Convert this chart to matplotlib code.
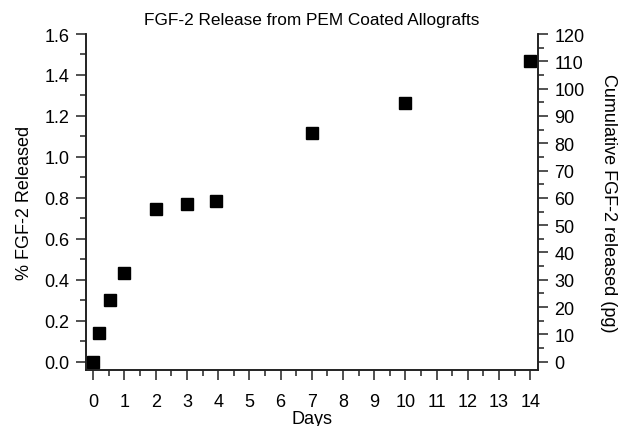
import matplotlib
matplotlib.use("Agg")
import matplotlib.pyplot as plt
from matplotlib.ticker import MultipleLocator

plt.rcParams['font.family'] = ['Liberation Sans', 'DejaVu Sans']

# release data
days = [0, 0.17, 0.55, 1, 2, 3, 3.92, 7, 10, 14]
pct_released = [0.0, 0.139, 0.301, 0.433, 0.746, 0.770, 0.783, 1.117, 1.263, 1.466]

# 1.6 % corresponds to 120 pg on the right axis
pg_per_pct = 75.0

fig = plt.figure(figsize=(6.19, 4.27), dpi=100)
ax = fig.add_axes([0.1384, 0.1318, 0.7313, 0.7862])
ax.plot(days, pct_released, linestyle="none", marker="s", markersize=8.5,
        color="black", clip_on=False, zorder=3)

ax.set_xlim(-0.244, 14.26)
ax.set_ylim(-0.039, 1.6)
ax.xaxis.set_major_locator(MultipleLocator(1))
ax.xaxis.set_minor_locator(MultipleLocator(0.5))
ax.yaxis.set_major_locator(MultipleLocator(0.2))
ax.yaxis.set_minor_locator(MultipleLocator(0.1))
ax.yaxis.set_major_formatter(plt.FuncFormatter(lambda v, p: "%.1f" % v))

ax2 = ax.twinx()
lo, hi = ax.get_ylim()
ax2.set_ylim(lo * pg_per_pct, hi * pg_per_pct)
ax2.yaxis.set_major_locator(MultipleLocator(10))
ax2.yaxis.set_minor_locator(MultipleLocator(5))

for a in (ax, ax2):
    a.spines["top"].set_visible(False)
    for s in a.spines.values():
        s.set_linewidth(1.2)
        s.set_color("#222222")
    a.tick_params(which="major", length=7.5, width=1.1, color="#222222",
                  labelsize=13, direction="out")
    a.tick_params(which="minor", length=4.5, width=1.1, color="#222222",
                  direction="out")
ax.tick_params(axis="x", pad=9)
ax.tick_params(axis="y", pad=4)
ax2.tick_params(axis="y", pad=4)

ax.set_title("FGF-2 Release from PEM Coated Allografts", fontsize=12.4, pad=7)
ax.set_xlabel("Days", fontsize=13, labelpad=0)
ax.set_ylabel("% FGF-2 Released", fontsize=13, labelpad=8)
ax2.set_ylabel("Cumulative FGF-2 released (pg)", fontsize=13, rotation=270,
               labelpad=23)

fig.savefig("out.png", dpi=100)
